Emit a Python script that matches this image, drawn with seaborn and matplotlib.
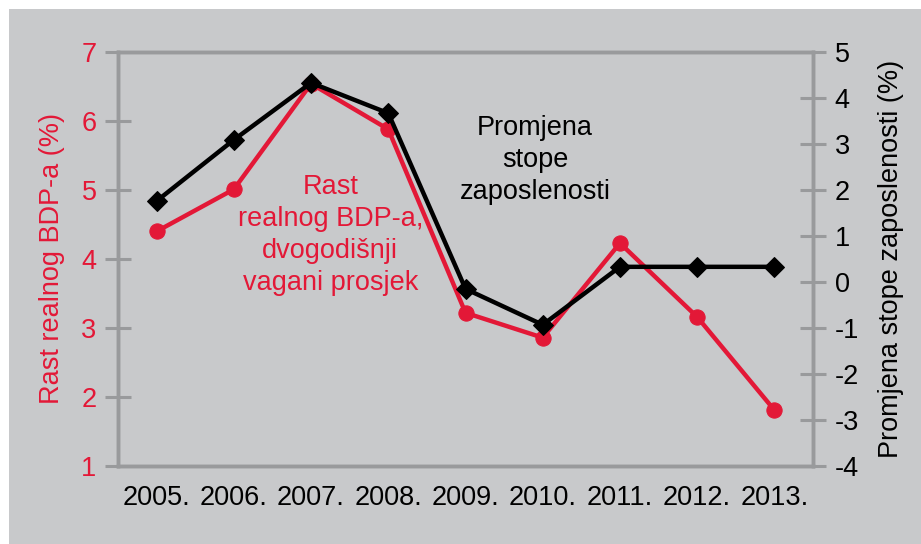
import matplotlib
matplotlib.use("Agg")
import matplotlib.pyplot as plt
import seaborn as sns
import pandas as pd
from matplotlib.patches import Rectangle

years = ["2005.", "2006.", "2007.", "2008.", "2009.", "2010.", "2011.", "2012.", "2013."]
gdp_growth = [4.4, 5.01, 6.54, 5.88, 3.22, 2.86, 4.23, 3.16, 1.81]
employment_change = [1.76, 3.09, 4.33, 3.67, -0.15, -0.93, 0.33, 0.33, 0.33]
left_ticks = [1, 2, 3, 4, 5, 6, 7]
right_ticks = [-4, -3, -2, -1, 0, 1, 2, 3, 4, 5]

RED = "#E31837"
BG = "#C8C9CB"
SPINE = "#999A9C"
FS = 19.5

sns.set_theme(style="white")
plt.rcParams["font.family"] = ["Liberation Sans", "DejaVu Sans"]
plt.rcParams["axes.unicode_minus"] = False

df = pd.DataFrame({"year": years, "gdp": gdp_growth, "emp": employment_change})
df["pos"] = range(len(years))

fig = plt.figure(figsize=(9.21, 5.44), dpi=100)
fig.patch.set_facecolor("white")
fig.patches.append(Rectangle((9 / 921, 0), 1, (544 - 9) / 544, transform=fig.transFigure,
                             facecolor=BG, edgecolor="none", zorder=-10))

ax = fig.add_axes([118 / 921, (544 - 466) / 544, (813 - 118) / 921, (466 - 52) / 544])
ax.set_facecolor(BG)
sns.lineplot(data=df, x="pos", y="gdp", ax=ax, color=RED, linewidth=3.2,
             marker="o", markersize=11, markeredgecolor=RED, zorder=3)
ax.set_ylim(1, 7)
ax.set_yticks(left_ticks)
ax.set_xlim(-0.5, len(years) - 0.5)
ax.set_xticks([i - 0.5 for i in range(len(years) + 1)])
ax.set_xticklabels([])
ax.set_xticks(range(len(years)), minor=True)
ax.set_xticklabels(years, minor=True)
ax.tick_params(axis="x", which="minor", length=0, pad=14, labelsize=FS, labelcolor="black")
ax.tick_params(axis="x", which="major", direction="inout", length=19, width=2.2, color=SPINE)
ax.tick_params(axis="y", direction="inout", length=19, width=2.2, color=SPINE,
               labelsize=FS, labelcolor=RED, pad=6)
ax.set_xlabel("")
ax.set_ylabel("Rast realnog BDP-a (%)", color=RED, fontsize=FS, labelpad=12)

ax2 = ax.twinx()
sns.lineplot(data=df, x="pos", y="emp", ax=ax2, color="black", linewidth=3.2,
             marker="D", markersize=10, markeredgecolor="black", zorder=3)
ax2.set_ylim(-4, 5)
ax2.set_yticks(right_ticks)
ax2.tick_params(axis="y", direction="inout", length=19, width=2.2, color=SPINE,
                labelsize=FS, labelcolor="black", pad=6)
ax2.set_ylabel("Promjena stope zaposlenosti (%)", color="black", fontsize=FS, labelpad=14)
ax2.set_xlabel("")

for a in (ax, ax2):
    for s in a.spines.values():
        s.set_color(SPINE)
        s.set_linewidth(2.5)
        s.set_visible(True)

ax.text(2.25, 4.35, "Rast\nrealnog BDP-a,\ndvogodišnji\nvagani prosjek", color=RED,
        fontsize=FS, ha="center", va="center", linespacing=1.3)
ax.text(4.9, 5.43, "Promjena\nstope\nzaposlenosti", color="black",
        fontsize=FS, ha="center", va="center", linespacing=1.3)

fig.savefig("out.png", dpi=100, facecolor=fig.get_facecolor())
